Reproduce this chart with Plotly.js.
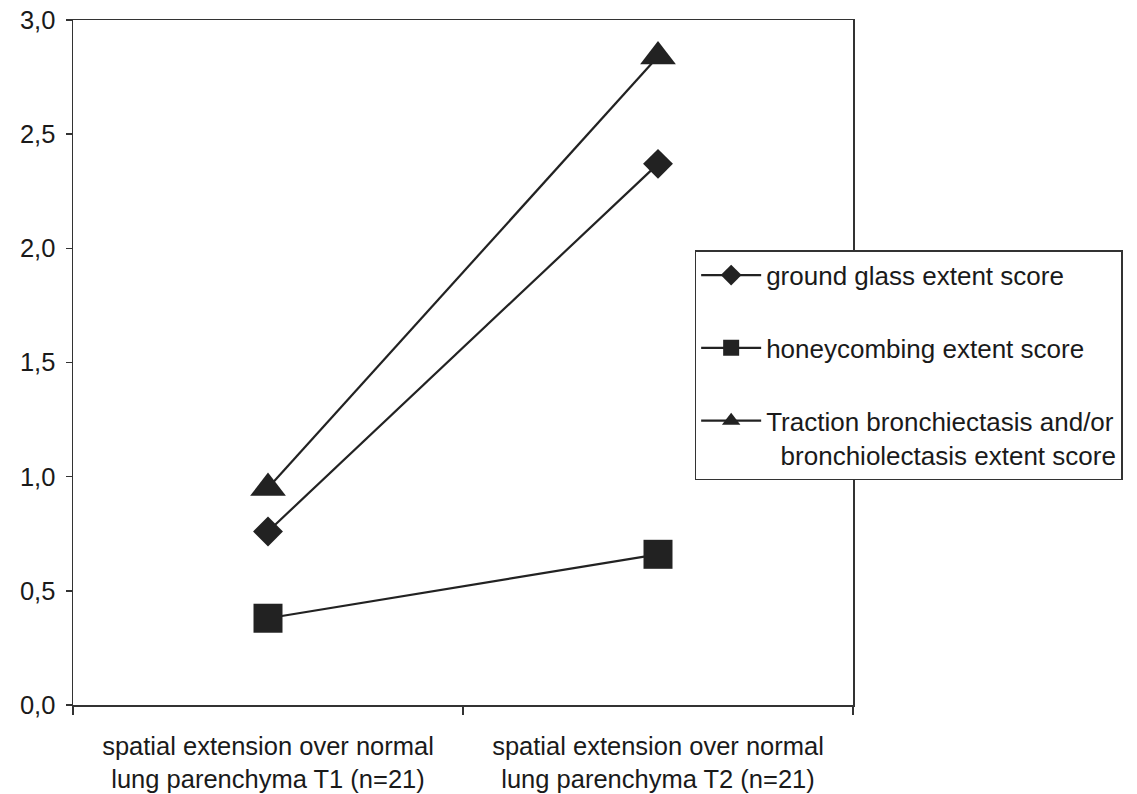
<!DOCTYPE html>
<html>
<head>
<meta charset="utf-8">
<script src="https://cdn.plot.ly/plotly-3.0.1.min.js"></script>
<style>html,body{margin:0;padding:0;background:#fff;}</style>
</head>
<body>
<div id="chart" style="width:1137px;height:794px;"></div>
<script>
const categories = [
  "spatial extension over normal<br>lung parenchyma T1 (n=21)",
  "spatial extension over normal<br>lung parenchyma T2 (n=21)"
];
const seriesNames = [
  "ground glass extent score",
  "honeycombing extent score",
  "Traction bronchiectasis and/or<br>\u00a0\u00a0bronchiolectasis extent score"
];
const groundGlass = [0.76, 2.37];
const honeycombing = [0.38, 0.66];
const traction = [0.95, 2.84];
const yTickVals = [0, 0.5, 1.0, 1.5, 2.0, 2.5, 3.0];

const ink = "#222222";
const symbols = ["diamond", "square", "triangle-up"];
const sizes = [23, 29, 31];
const values = [groundGlass, honeycombing, traction];

const traces = values.map((v, i) => ({
  x: categories,
  y: v,
  type: "scatter",
  mode: "lines+markers",
  name: seriesNames[i],
  legendgroup: "g" + i,
  line: {color: ink, width: 2.2},
  marker: {symbol: symbols[i], size: sizes[i], color: ink, line: {width: 0}}
}));

const font = {family: "Liberation Sans, Arial, sans-serif", color: "#1a1a1a"};

const layout = {
  width: 1137,
  height: 794,
  margin: {l: 73, r: 284, t: 20, b: 89},
  paper_bgcolor: "#ffffff",
  plot_bgcolor: "#ffffff",
  separators: ", ",
  showlegend: true,
  font: Object.assign({size: 26}, font),
  xaxis: {
    type: "category",
    range: [-0.5, 1.5],
    showgrid: false,
    zeroline: false,
    showline: true,
    mirror: true,
    linecolor: "#333333",
    linewidth: 1.5,
    ticks: "outside",
    tickson: "boundaries",
    ticklen: 8,
    tickcolor: "#333333",
    tickwidth: 1.5,
    tickfont: Object.assign({size: 25.5}, font),
    ticklabelstandoff: 18
  },
  yaxis: {
    range: [0, 3],
    tickvals: yTickVals,
    tickformat: ".1f",
    showgrid: false,
    zeroline: false,
    showline: true,
    mirror: true,
    linecolor: "#333333",
    linewidth: 1.5,
    ticks: "outside",
    ticklen: 6,
    tickcolor: "#333333",
    tickwidth: 1.5,
    tickfont: Object.assign({size: 25.5}, font),
    ticklabelstandoff: 5
  },
  legend: {
    x: 0.797,
    xanchor: "left",
    y: 0.664,
    yanchor: "top",
    bgcolor: "#ffffff",
    bordercolor: "#333333",
    borderwidth: 1.5,
    font: Object.assign({size: 26}, font),
    tracegroupgap: 36,
    itemwidth: 60,
    valign: "top",
    traceorder: "grouped"
  }
};

Plotly.newPlot("chart", traces, layout, {displayModeBar: false, staticPlot: true});
</script>
</body>
</html>
